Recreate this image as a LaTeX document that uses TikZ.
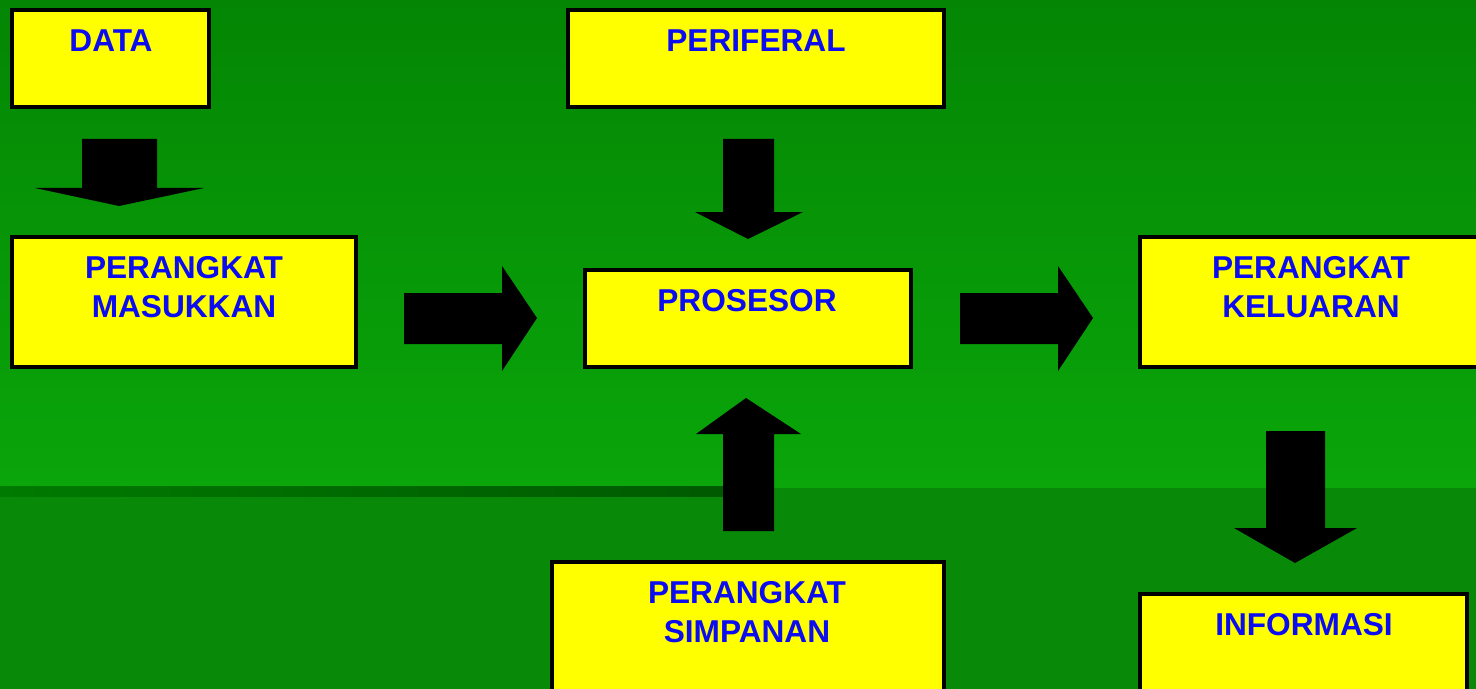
\documentclass[tikz,border=0pt]{standalone}
\usepackage{fontspec}
\setmainfont{Liberation Sans}
\usetikzlibrary{fit}
\definecolor{gtop}{RGB}{4,134,4}
\definecolor{gmid}{RGB}{10,166,10}
\definecolor{glow}{RGB}{8,138,8}
\definecolor{bandL}{RGB}{0,122,0}
\definecolor{bandR}{RGB}{0,90,0}
\definecolor{boxfill}{RGB}{255,255,0}
\definecolor{txtblue}{RGB}{12,12,240}
\tikzset{
  box/.style={draw=black, line width=1.8pt, fill=boxfill, inner sep=0pt, outer sep=0pt},
  lbl/.style={text=txtblue, font=\fontsize{18}{22.2}\selectfont\bfseries, align=center, anchor=north, inner sep=0pt},
  blockarrow/.style={fill=black, draw=none}
}
\begin{document}
\begin{tikzpicture}[x=0.02cm,y=-0.02cm]
\useasboundingbox (0,0) rectangle (1476,689);
\clip (0,0) rectangle (1476,689);
% background
\shade[top color=gtop, bottom color=gmid] (0,0) rectangle (1476,488);
\fill[glow] (0,488) rectangle (1476,689);
\shade[left color=bandL, right color=bandR] (0,486) rectangle (723,496);

% boxes
\node[box, fit={(12,10)(209,107)}] (data) {};
\node[box, fit={(568,10)(944,107)}] (periferal) {};
\node[box, fit={(12,237)(356,367)}] (masukkan) {};
\node[box, fit={(585,270)(911,367)}] (prosesor) {};
\node[box, fit={(1140,237)(1482,367)}] (keluaran) {};
\node[box, fit={(552,562)(944,700)}] (simpanan) {};
\node[box, fit={(1140,594)(1467,700)}] (informasi) {};

% labels
\node[lbl] (tdata) at (111,29) {DATA};
\node[lbl] (tperif) at (756,29) {PERIFERAL};
\node[lbl] (tmasuk) at (184,256) {PERANGKAT\\MASUKKAN};
\node[lbl] (tpros) at (747,289) {PROSESOR};
\node[lbl] (tkel) at (1311,256) {PERANGKAT\\KELUARAN};
\node[lbl] (tsimp) at (747,581) {PERANGKAT\\SIMPANAN};
\node[lbl] (tinfo) at (1304,613) {INFORMASI};

% block arrows
% data -> masukkan
\fill[blockarrow] (82,139) -- (157,139) -- (157,188) -- (204,188) -- (119,206) -- (35,188) -- (82,188) -- cycle;
% periferal -> prosesor
\fill[blockarrow] (723,139) -- (774,139) -- (774,212) -- (803,212) -- (748,239) -- (695,212) -- (723,212) -- cycle;
% simpanan -> prosesor
\fill[blockarrow] (723,531) -- (774,531) -- (774,434) -- (801,434) -- (746,398) -- (696,434) -- (723,434) -- cycle;
% masukkan -> prosesor
\fill[blockarrow] (404,293) -- (502,293) -- (502,266) -- (537,318) -- (502,371) -- (502,344) -- (404,344) -- cycle;
% prosesor -> keluaran
\fill[blockarrow] (960,293) -- (1058,293) -- (1058,266) -- (1093,318) -- (1058,371) -- (1058,344) -- (960,344) -- cycle;
% keluaran -> informasi
\fill[blockarrow] (1266,431) -- (1325,431) -- (1325,528) -- (1357,528) -- (1295,563) -- (1234,528) -- (1266,528) -- cycle;
\end{tikzpicture}
\end{document}
